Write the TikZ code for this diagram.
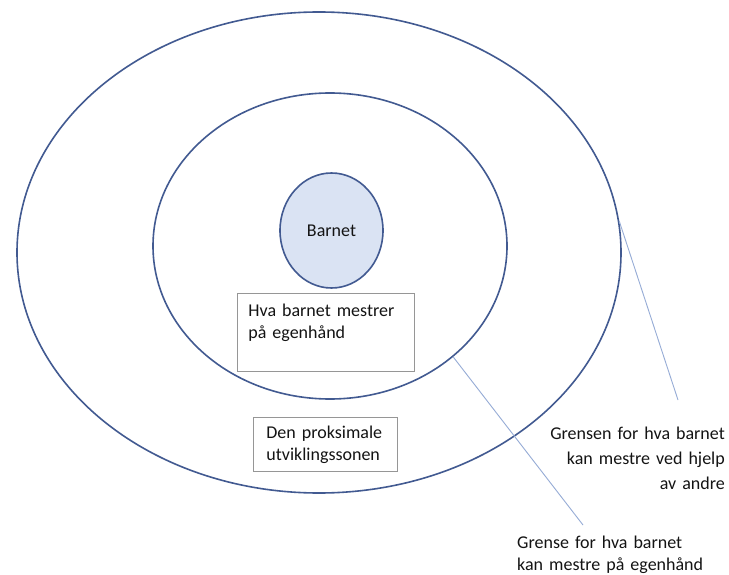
\documentclass[tikz,border=0pt]{standalone}
\usepackage{fontspec}
\setmainfont{Carlito}
\usetikzlibrary{shapes.geometric}
\definecolor{ringblue}{RGB}{66,90,145}
\definecolor{leaderblue}{RGB}{150,172,214}
\definecolor{childfill}{RGB}{218,227,243}
\definecolor{boxgray}{RGB}{150,150,150}
\definecolor{txt}{RGB}{20,20,20}
\tikzset{
  ring/.style={ellipse, draw=ringblue, line width=1.6bp, inner sep=0pt},
  leader/.style={draw=leaderblue, line width=0.9bp},
  labelbox/.style={draw=boxgray, line width=0.8bp, inner ysep=0pt, align=left, text=txt,
    font=\fontsize{18bp}{22bp}\selectfont},
  plaintext/.style={inner sep=0pt, text=txt, text height=15bp}
}
\begin{document}
\begin{tikzpicture}[x=1bp, y=-1bp]
\useasboundingbox (0,0) rectangle (729,575);
\fill[white] (0,0) rectangle (729,575);
\node[ring, minimum width=604bp, minimum height=481bp] (outer) at (319,252.5) {};
\node[ring, minimum width=354bp, minimum height=306bp] (inner) at (330,246) {};
\node[ring, fill=childfill, minimum width=103bp, minimum height=115bp, text=txt,
  font=\fontsize{18bp}{22bp}\selectfont] (child) at (331.5,230.5) {Barnet};
\node[labelbox, anchor=north west, inner xsep=11bp, text width=155bp,
  text height=23bp, text depth=55bp] (mastered) at (237,293) {Hva barnet mestrer\\på egenhånd};
\node[labelbox, anchor=north west, inner xsep=13bp, text width=118bp,
  text height=21bp, text depth=33bp] (zone) at (253,417) {Den proksimale\\utviklingssonen};
\node[plaintext, anchor=north east, text width=200bp, align=right,
  font=\fontsize{18bp}{25bp}\selectfont] (helpborder) at (725,424) {Grensen for hva barnet\\kan mestre ved hjelp\\av andre};
\node[plaintext, anchor=north west, text width=210bp, align=left,
  font=\fontsize{18bp}{22bp}\selectfont] (ownborder) at (517,533) {Grense for hva barnet\\kan mestre på egenhånd};
\coordinate (e1) at (583,525);
\coordinate (e2) at (678,400);
\draw[leader] (inner.-42.8) -- (e1);
\draw[leader] (outer.6.8) -- (e2);
\end{tikzpicture}
\end{document}
